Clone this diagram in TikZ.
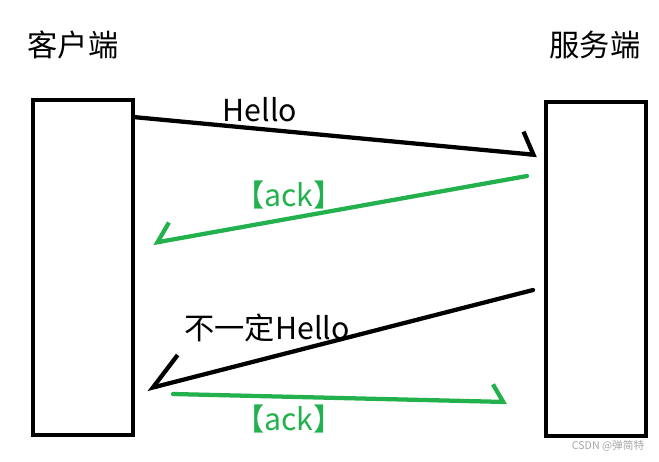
\documentclass[tikz,border=0pt]{standalone}
\usepackage{fontspec}
\setmainfont{Noto Sans CJK SC}
\usetikzlibrary{arrows.meta}
\definecolor{paintgreen}{RGB}{34,177,76}
\tikzset{
  lane/.style={draw, line width=3.2pt, minimum width=75pt, minimum height=251pt, inner sep=0pt},
  msg/.style={line width=3.2pt, line cap=round, line join=round},
  lbl/.style={font=\fontsize{22.7}{27}\selectfont, inner sep=0pt}
}
\begin{document}
\begin{tikzpicture}[x=0.75pt, y=-0.75pt]
\useasboundingbox (0,0) rectangle (659,461);
% two sides
\node[lane] (client) at (83,267.5) {};
\node[lane] (server) at (596,269) {};
\node[lbl] (clientname) at (73,45) {客户端};
\node[lbl] (servername) at (595,45) {服务端};
% first round
\coordinate (h1s) at (133,117);
\coordinate (h1e) at (537,155);
\draw[msg, -{Straight Barb[harpoon, length=9pt, width=33pt, line width=3.2pt]}] (h1s) -- (h1e);
\node[lbl] (hello) at (260,110) {Hello};
\coordinate (a1s) at (527,176);
\coordinate (a1e) at (153,243);
\draw[msg, paintgreen, -{Straight Barb[harpoon, swap, length=11pt, width=26pt, line width=3.2pt]}] (a1s) -- (a1e);
\node[lbl, text=paintgreen] (ack1) at (289,195) {【ack】};
% second round
\coordinate (h2s) at (533,290);
\coordinate (h2e) at (147,389);
\draw[msg, -{Straight Barb[harpoon, swap, length=24pt, width=38pt, line width=3.2pt]}] (h2s) -- (h2e);
\node[lbl] (nothello) at (267,328) {不一定Hello};
\coordinate (a2s) at (173,394);
\coordinate (a2e) at (507,402);
\draw[msg, paintgreen, -{Straight Barb[harpoon, length=8pt, width=26pt, line width=3.2pt]}] (a2s) -- (a2e);
\node[lbl, text=paintgreen] (ack2) at (289,419) {【ack】};
% watermark
\node[font=\fontsize{8}{9}\selectfont, text=black!35, inner sep=0pt] (mark) at (608,446) {CSDN @弹简特};
\end{tikzpicture}
\end{document}
